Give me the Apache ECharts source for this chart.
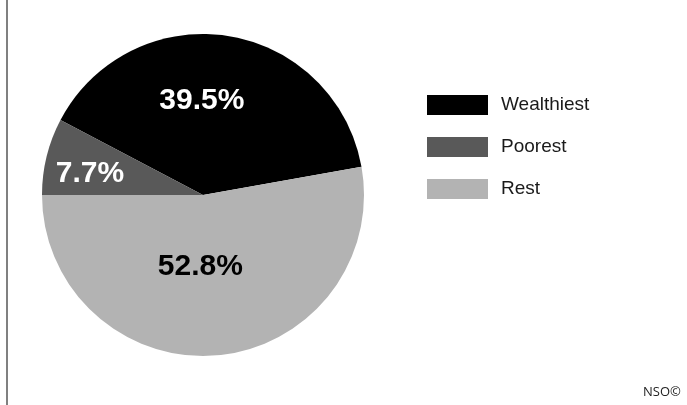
<!DOCTYPE html>
<html>
<head>
<meta charset="utf-8">
<script src="https://cdn.jsdelivr.net/npm/echarts@6/dist/echarts.min.js"></script>
<style>
html,body{margin:0;padding:0;background:#fff;}
#chart{width:687px;height:405px;}
</style>
</head>
<body>
<div id="chart"></div>
<script>
const categories = ['Wealthiest', 'Poorest', 'Rest'];
const values = [39.5, 7.7, 52.8];
const colors = ['#000000', '#595959', '#b3b3b3'];
const labelColors = ['#ffffff', '#ffffff', '#000000'];
const labelOffsets = [[-14, -12], [-32, -1], [-10, -11]];

const total = values.reduce((a, b) => a + b, 0);
// Rest starts at the 9 o'clock position, going counter-clockwise
const startAngle = 180 - (values[0] + values[1]) / total * 360;

const chart = echarts.init(document.getElementById('chart'));
chart.setOption({
  animation: false,
  backgroundColor: '#ffffff',
  legend: {
    orient: 'vertical',
    left: 422,
    top: 90,
    itemWidth: 61,
    itemHeight: 20,
    itemGap: 22,
    icon: 'rect',
    data: categories,
    textStyle: {
      fontFamily: 'Liberation Sans, Arial, sans-serif',
      fontSize: 19,
      color: '#1a1a1a',
      padding: [0, 0, 0, 8]
    }
  },
  series: [{
    type: 'pie',
    center: [203, 195],
    radius: 161,
    startAngle: startAngle,
    clockwise: false,
    silent: true,
    label: {
      show: true,
      position: 'inside',
      fontFamily: 'Liberation Sans, Arial, sans-serif',
      fontWeight: 'bold',
      fontSize: 30,
      formatter: p => p.value.toFixed(1) + '%'
    },
    labelLine: { show: false },
    itemStyle: { borderWidth: 0 },
    data: categories.map((c, i) => ({
      name: c,
      value: values[i],
      itemStyle: { color: colors[i] },
      label: { color: labelColors[i], offset: labelOffsets[i] }
    }))
  }],
  graphic: [
    {
      type: 'line',
      shape: { x1: 7, y1: 0, x2: 7, y2: 405 },
      style: { stroke: '#808080', lineWidth: 2 }
    },
    {
      type: 'text',
      left: 643,
      top: 386,
      style: {
        text: 'NSO©',
        font: '13px "Open Sans", "Liberation Sans", sans-serif',
        fill: '#222222'
      }
    }
  ]
});
</script>
</body>
</html>
